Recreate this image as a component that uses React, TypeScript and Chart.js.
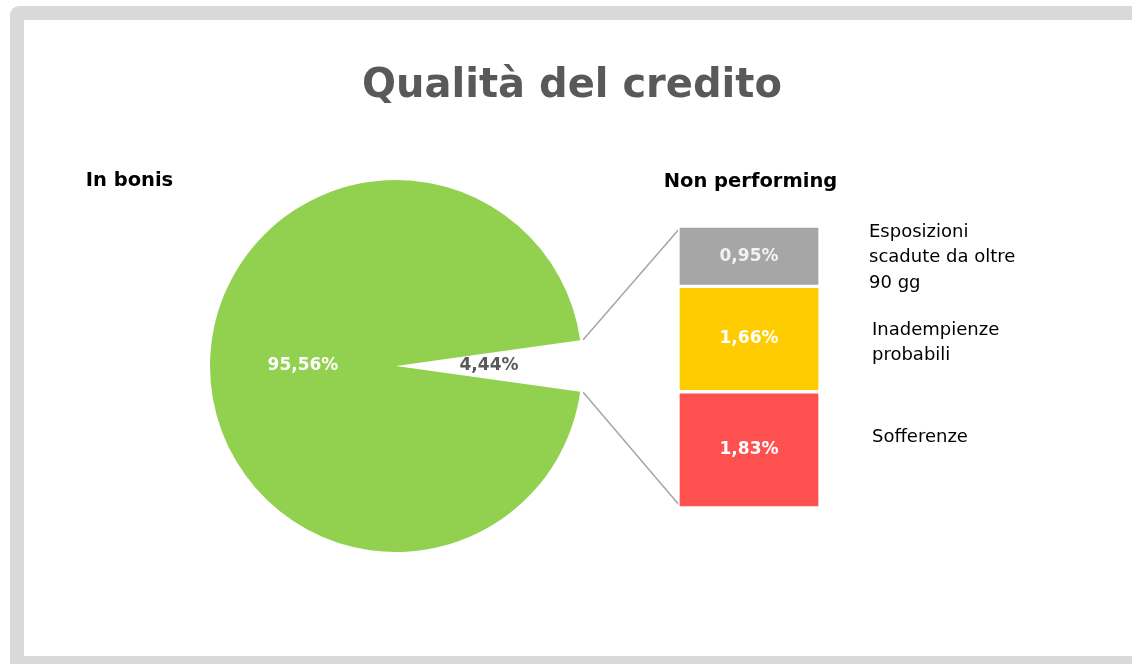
import { useEffect, useRef } from "react";
import { Chart, registerables } from "chart.js";

Chart.register(...registerables);

// ---- data ----
const pieLabels = ["Non performing", "In bonis"];
const pieValues = [4.44, 95.56];
const pieValueTexts = ["4,44%", "95,56%"];
const pieColors = ["#ffffff", "#92d050"];
const pieTextColors = ["#595959", "#ffffff"];

const npCategories = ["Sofferenze", "Inadempienze probabili", "Esposizioni scadute da oltre 90 gg"];
const npValues = [1.83, 1.66, 0.95];
const npValueTexts = ["1,83%", "1,66%", "0,95%"];
const npColors = ["#ff5050", "#ffcc00", "#a6a6a6"];
const npTextColors = ["#ffffff", "#ffffff", "#f2f2f2"];
const npLegendLines = [["Sofferenze"], ["Inadempienze", "probabili"], ["Esposizioni", "scadute da oltre", "90 gg"]];

const titleText = "Qualità del credito";
const leftSubtitle = "In bonis";
const rightSubtitle = "Non performing";

// ---- layout ----
const W = 1132;
const H = 664;
const FONT = "'DejaVu Sans', sans-serif";
const BAR_LEFT = 678;
const BAR_TOP = 226;
const BAR_W = 142;
const BAR_H = 282;
const LEGEND_POS = [
  { x: 872, y: [437] },
  { x: 872, y: [330, 355] },
  { x: 869, y: [232, 257.5, 283] },
];

export default function App() {
  const pieRef = useRef<HTMLCanvasElement | null>(null);
  const barRef = useRef<HTMLCanvasElement | null>(null);

  useEffect(() => {
    if (!pieRef.current || !barRef.current) return;

    const npTotal = npValues.reduce((a, b) => a + b, 0);

    const barLabelPlugin = {
      id: "barLabels",
      afterDatasetsDraw(chart: any) {
        const ctx = chart.ctx;
        ctx.save();
        ctx.font = `bold 17px ${FONT}`;
        ctx.textAlign = "center";
        ctx.textBaseline = "middle";
        chart.data.datasets.forEach((_: any, i: number) => {
          const el = chart.getDatasetMeta(i).data[0];
          ctx.fillStyle = npTextColors[i];
          ctx.fillText(npValueTexts[i], el.x, (el.y + el.base) / 2);
        });
        ctx.restore();
      },
    };

    const barChart = new Chart(barRef.current, {
      type: "bar",
      data: {
        labels: [rightSubtitle],
        datasets: npValues.map((v, i) => ({
          label: npCategories[i],
          data: [v],
          backgroundColor: npColors[i],
          borderColor: "#ffffff",
          borderWidth: 2,
          borderSkipped: false,
          barPercentage: 1,
          categoryPercentage: 1,
        })),
      },
      options: {
        responsive: false,
        animation: false,
        events: [],
        layout: { padding: 0 },
        scales: {
          x: { display: false, stacked: true },
          y: { display: false, stacked: true, min: 0, max: npTotal },
        },
        plugins: { legend: { display: false }, tooltip: { enabled: false } },
      },
      plugins: [barLabelPlugin],
    });

    const total = pieValues.reduce((a, b) => a + b, 0);
    const rotation = 90 - (pieValues[0] / total) * 180;

    const decorPlugin = {
      id: "decor",
      beforeDraw(chart: any) {
        const ctx = chart.ctx;
        ctx.save();
        ctx.fillStyle = "#ffffff";
        ctx.fillRect(0, 0, W, H);
        // frame
        ctx.fillStyle = "#d9d9d9";
        ctx.beginPath();
        (ctx as any).roundRect(10, 6, W + 40, H + 40, 9);
        ctx.fill();
        ctx.fillStyle = "#ffffff";
        ctx.fillRect(24, 20, W + 10, 636);
        // title
        ctx.fillStyle = "#595959";
        ctx.textAlign = "center";
        ctx.textBaseline = "alphabetic";
        ctx.font = `bold 40px ${FONT}`;
        ctx.fillText(titleText, 572, 97);
        // subtitles
        ctx.fillStyle = "#000000";
        ctx.textBaseline = "middle";
        ctx.font = `bold 19.5px ${FONT}`;
        ctx.fillText(leftSubtitle, 129.5, 181);
        ctx.fillText(rightSubtitle, 750.5, 182);
        // legend texts
        ctx.textAlign = "left";
        ctx.font = `18px ${FONT}`;
        npLegendLines.forEach((lines, i) => {
          lines.forEach((line, j) => {
            ctx.fillText(line, LEGEND_POS[i].x, LEGEND_POS[i].y[j]);
          });
        });
        ctx.restore();
      },
      afterDraw(chart: any) {
        const ctx = chart.ctx;
        const arcs = chart.getDatasetMeta(0).data;
        ctx.save();
        // value labels
        ctx.font = `bold 17px ${FONT}`;
        ctx.textAlign = "center";
        ctx.textBaseline = "middle";
        arcs.forEach((arc: any, i: number) => {
          const mid = (arc.startAngle + arc.endAngle) / 2;
          const r = arc.outerRadius * 0.5;
          ctx.fillStyle = pieTextColors[i];
          ctx.fillText(pieValueTexts[i], arc.x + Math.cos(mid) * r, arc.y + Math.sin(mid) * r);
        });
        // connector lines from the non-performing slice to the bar
        const np = arcs[0];
        const topEl: any = barChart.getDatasetMeta(npValues.length - 1).data[0];
        const botEl: any = barChart.getDatasetMeta(0).data[0];
        const bw = 2;
        const leftX = BAR_LEFT + topEl.x - topEl.width / 2 + bw;
        const topY = BAR_TOP + topEl.y + bw;
        const botY = BAR_TOP + botEl.base - bw;
        const R = np.outerRadius + 3;
        ctx.strokeStyle = "#a6a6a6";
        ctx.lineWidth = 1.5;
        ctx.beginPath();
        ctx.moveTo(np.x + Math.cos(np.startAngle) * R, np.y + Math.sin(np.startAngle) * R);
        ctx.lineTo(leftX, topY);
        ctx.moveTo(np.x + Math.cos(np.endAngle) * R, np.y + Math.sin(np.endAngle) * R);
        ctx.lineTo(leftX, botY);
        ctx.stroke();
        ctx.restore();
      },
    };

    const pieChart = new Chart(pieRef.current, {
      type: "pie",
      data: {
        labels: pieLabels,
        datasets: [
          {
            data: pieValues,
            backgroundColor: pieColors,
            borderColor: "#ffffff",
            borderWidth: 0,
          },
        ],
      },
      options: {
        responsive: false,
        animation: false,
        events: [],
        rotation,
        layout: { padding: { left: 210, right: 550, top: 180, bottom: 112 } },
        plugins: { legend: { display: false }, tooltip: { enabled: false } },
      },
      plugins: [decorPlugin],
    });

    return () => {
      pieChart.destroy();
      barChart.destroy();
    };
  }, []);

  return (
    <div style={{ position: "absolute", left: 0, top: 0, width: W, height: H, background: "#fff", overflow: "hidden" }}>
      <canvas
        ref={pieRef}
        width={W}
        height={H}
        style={{ position: "absolute", left: 0, top: 0, width: W, height: H }}
      />
      <canvas
        ref={barRef}
        width={BAR_W}
        height={BAR_H}
        style={{ position: "absolute", left: BAR_LEFT, top: BAR_TOP, width: BAR_W, height: BAR_H }}
      />
    </div>
  );
}
